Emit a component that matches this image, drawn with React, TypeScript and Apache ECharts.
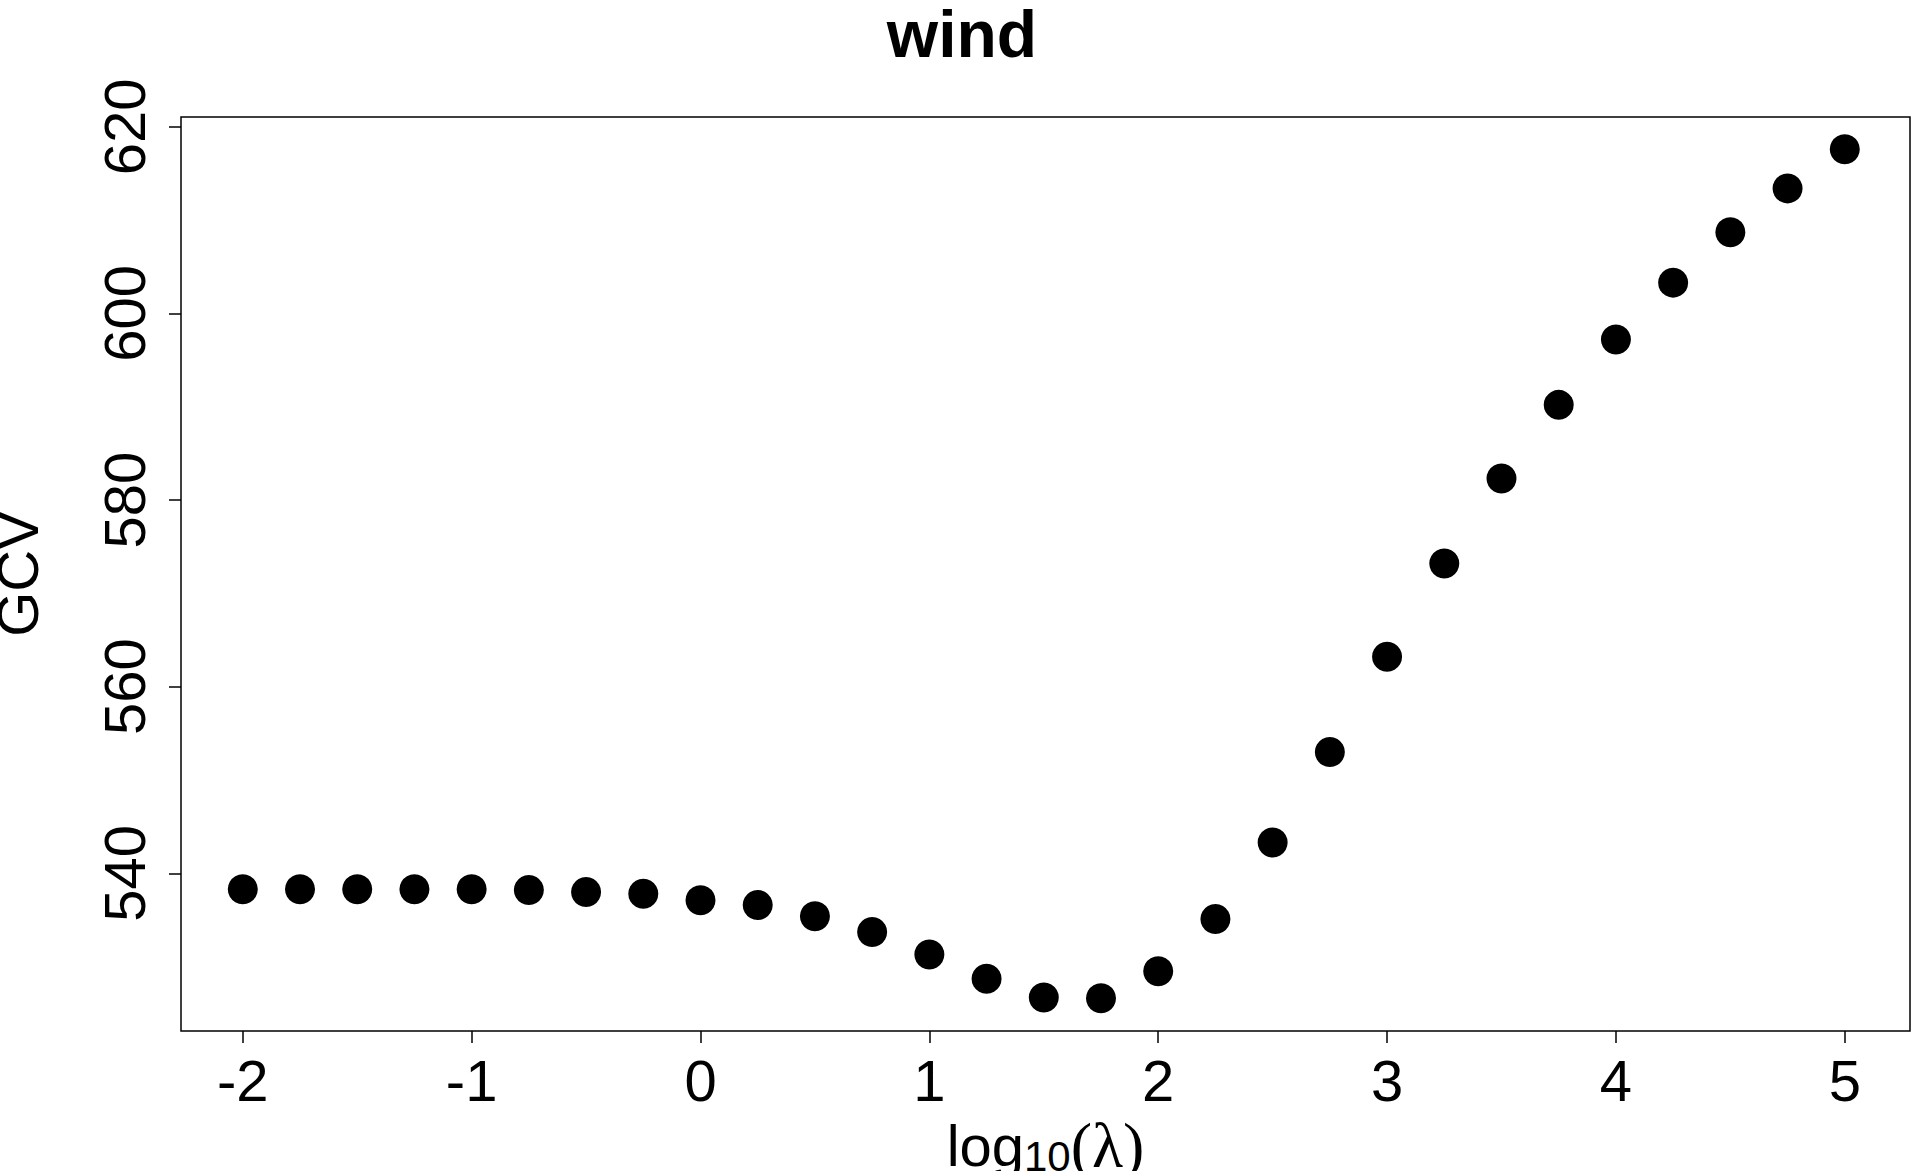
import React, { useEffect, useRef } from "react";
import * as echarts from "echarts";

const xValues = [-2, -1.75, -1.5, -1.25, -1, -0.75, -0.5, -0.25, 0, 0.25, 0.5, 0.75, 1, 1.25, 1.5, 1.75, 2, 2.25, 2.5, 2.75, 3, 3.25, 3.5, 3.75, 4, 4.25, 4.5, 4.75, 5];
const gcvValues = [538.3, 538.3, 538.3, 538.3, 538.3, 538.2, 538.0, 537.8, 537.1, 536.6, 535.4, 533.7, 531.3, 528.7, 526.7, 526.6, 529.5, 535.1, 543.3, 553.0, 563.2, 573.2, 582.3, 590.2, 597.2, 603.3, 608.7, 613.4, 617.6];
const xTicks = [-2, -1, 0, 1, 2, 3, 4, 5];
const yTicks = [540, 560, 580, 600, 620];

export default function App() {
  const ref = useRef<HTMLDivElement>(null);
  useEffect(() => {
    const chart = echarts.init(ref.current!, null, { renderer: "svg" });
    const font = "Liberation Sans, Arial, sans-serif";
    chart.setOption({
      animation: false,
      backgroundColor: "#fff",
      title: {
        text: "wind", left: "center", top: -4,
        textStyle: { fontFamily: font, fontWeight: "bold", fontSize: 66, color: "#000" },
      },
      grid: { left: 181, top: 117, width: 1729, height: 914, outerBoundsMode: "none", containLabel: false, show: true, borderColor: "#000", borderWidth: 1.5, backgroundColor: "transparent" },
      xAxis: {
        type: "value", min: -2.27, max: 5.285,
        splitLine: { show: false },
        axisLine: { show: false, onZero: false },
        axisTick: { show: true, length: 12, customValues: xTicks, lineStyle: { color: "#000", width: 1.5 } },
        axisLabel: { customValues: xTicks, fontFamily: font, fontSize: 58, color: "#000", margin: 20 },
        name: "{a|log}{s|10}{b|(λ)}", nameLocation: "middle", nameGap: 80,
        nameTextStyle: {
          rich: {
            a: { fontFamily: font, fontSize: 58, color: "#000" },
            s: { fontFamily: font, fontSize: 42, color: "#000", verticalAlign: "bottom", padding: [22, 0, 0, 0] },
            b: { fontFamily: "Liberation Serif, serif", fontSize: 64, color: "#000" },
          },
        },
      },
      yAxis: {
        type: "value", min: 523.1, max: 621.05,
        splitLine: { show: false },
        axisLine: { show: false, onZero: false },
        axisTick: { show: true, length: 12, customValues: yTicks, lineStyle: { color: "#000", width: 1.5 } },
        axisLabel: { customValues: yTicks, rotate: 90, fontFamily: font, fontSize: 58, color: "#000", margin: 28 },
        name: "GCV", nameLocation: "middle", nameGap: 135, nameRotate: 90,
        nameTextStyle: { fontFamily: font, fontSize: 58, color: "#000" },
      },
      series: [{
        type: "scatter", symbol: "circle", symbolSize: 30,
        itemStyle: { color: "#000", opacity: 1 },
        data: xValues.map((x, i) => [x, gcvValues[i]]),
      }],
    });
    return () => chart.dispose();
  }, []);
  return <div ref={ref} style={{ position: "absolute", left: 0, top: 0, width: 1924, height: 1171 }} />;
}
